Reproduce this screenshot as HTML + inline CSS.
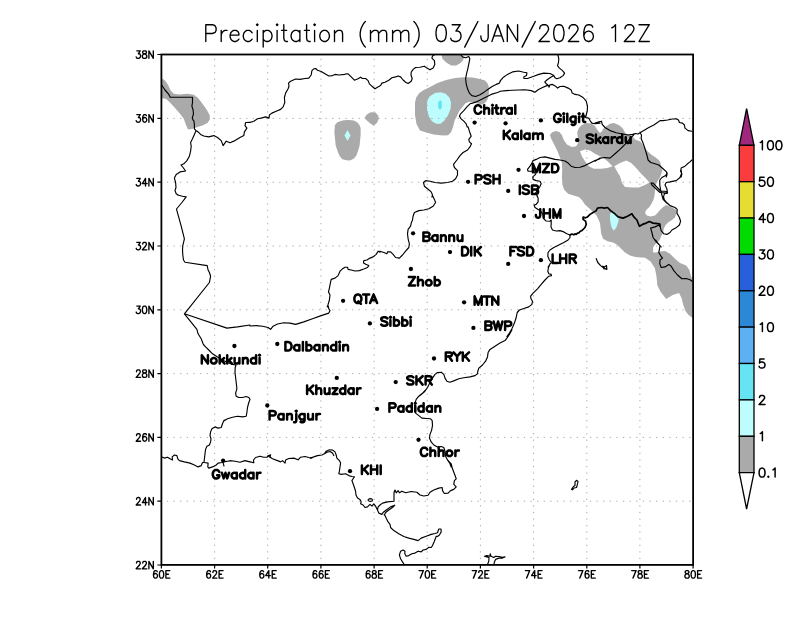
<!DOCTYPE html>
<html lang="en"><head><meta charset="utf-8"><title>Precipitation (mm) 03/JAN/2026 12Z</title>
<style>html,body{margin:0;padding:0;background:#fff}body{width:800px;height:618px;overflow:hidden;font-family:"Liberation Sans",sans-serif}svg{display:block}.t{font-family:"Liberation Sans",sans-serif;fill:#000;fill-opacity:0;stroke:none}</style>
</head><body>
<svg width="800" height="618" viewBox="0 0 800 618">
<rect width="800" height="618" fill="#fff"/>
<defs><clipPath id="cp"><rect x="161.4" y="54.5" width="531.7" height="510.4"/></clipPath></defs>
<g clip-path="url(#cp)">
<g stroke="none">
<path fill="#aaaaaa" d="M161.5 78.1 165 80.6 168.1 85 170.6 90.6 173.8 93.8 178.8 94.4 187.5 93.8 193.8 94.8 198.1 98.1 202.5 103.8 206.9 110 209.8 115.6 209.8 119.4 207.5 123.1 202.5 125.6 200 126.2 192.5 128.8 188.1 129.4 186.2 125.6 183.8 118.8 180 113.8 175 108.1 170 102.5 166.2 99 161.5 98.1Z"/>
<path fill="#aaaaaa" d="M364.4 118.1 366.9 114.4 370.6 112.2 375.6 112.5 378.1 115.6 378.8 118.8 376.9 123.1 373.8 125.6 370.6 123.8 366.9 120.6Z"/>
<path fill="#aaaaaa" d="M441.2 54.5 442.5 58.8 446.2 62.5 451.2 65.6 456.2 65.6 460.6 63.1 463.1 60 464 57.5 461.2 54.5Z"/>
<path fill="#aaaaaa" d="M415 102.5 416.2 97.5 419.4 93.1 423.8 90 430 86.9 437.5 83.1 446.2 80 455 78.1 463.8 77.2 472.5 77.5 480 79 485 80.5 488 83.9 489.1 88.8 488.8 94.8 487.2 100 485 103 482 104.5 477.5 103.4 473.8 102.4 469 101.7 465.2 103.6 462.3 107.3 459.3 111 457 116 454.8 120 453 127 451.2 131.9 448.1 135.2 442.5 135.6 433.8 134.4 426.2 132.5 420 130.6 416.5 124 415 115Z"/>
<path fill="#bdfdfd" d="M426.9 105 427.5 100 430 96.2 435 93.1 440.6 92.2 445.6 93.8 449.4 97.5 451 102.5 450.6 108.8 448.1 115 445 120 440.6 123.8 436.2 123.8 431.9 121.2 428.8 116.2 427.2 110.6Z"/>
<path fill="#66e4f4" d="M438.1 102.5 440 100 441.9 101.9 441.9 107.5 440 110 438.1 107.5Z"/>
<path fill="#aaaaaa" d="M334.4 132.8 334.9 125.3 337 122.5 340 121.3 343.8 120.2 348.8 120 353.8 120.6 357.5 122.5 359.4 125 360.6 128 360.6 135.3 359.6 145.4 358 151 356.3 155.4 354 158.4 350 160.4 346 160.2 342.5 159.2 340 156.6 338.2 152.9 335.7 145.4Z"/>
<path fill="#bdfdfd" d="M347.5 130 350.5 135.5 347.5 141 344.5 135.5Z"/>
<path fill="#aaaaaa" fill-rule="evenodd" d="M550 135 551.9 132.5 555.6 131 559.4 131.9 561.9 135 563.8 140 566.9 144.4 571.9 146.9 576.2 146.2 578.1 143.1 577.8 137.5 577.2 132.5 578.8 128.1 581.9 125 586.2 123.1 591.2 123.5 594.4 125.6 597.5 130 600 133.1 601.9 131.2 603.8 128.1 606.2 126.2 610 123.8 613.8 123.1 618.8 125 622.5 128.1 625 132.5 626.2 133.8 632.5 136 635 139.4 640.4 141.4 642 143.6 644.4 147.5 647.5 151.2 651.2 154.4 655 156.9 658.8 160 660.6 163.1 661.2 167.5 662.5 170 661.2 173.8 660 177.5 658.1 180 656.2 183.8 655 188.8 654.8 193.8 653.8 198.8 651.9 203.1 649.4 206.9 646.2 210 645 213.1 646.9 215.6 650.6 216.5 655 215.6 657.5 213.1 660 210 663.1 206.9 666.2 205 669.4 206.2 673.1 208.1 676.2 210 676.2 213.8 675 217.5 671.9 220 668.1 222.5 665.6 225 663.8 228.8 663.1 232.5 661.2 236.2 659.4 240.6 657.5 241.9 655 244.4 653.1 247.5 653.1 252.5 656.2 252.5 660 251.5 665 251 670 253.8 675 258.8 680 263.1 686.2 265.6 689.4 270 691 276.2 692.8 280 692.8 318 688.8 315.2 685.6 311.2 683.2 304.7 681.6 298.3 679.1 293.1 672.7 295 666.2 299.1 660.5 291.8 657.3 285.3 656.5 276.4 654.9 268.3 650.8 261.8 645.2 257.8 635.5 257 630 255.6 625 252.5 621.2 248.8 617.5 245 613.1 242.5 607.5 241.2 603.1 238.8 601.2 233.8 600.6 228.8 600 223.1 598.1 218.8 596.2 215 593.1 211.9 588.8 208.1 585 204.4 581.9 200 578.8 196.9 573.8 195.6 568.1 193.8 564.4 190 562.5 185 561.9 177.5 562.2 170 561.9 162.5 560 157.5 557.5 151.2 554.4 145 551.2 138.8ZM580 151.2 585 149.4 590 150.6 595 153.8 600 156.2 603.8 158.1 607.5 161.2 612.5 166.2 607.5 168.1 601.2 168.8 593.8 168.8 588.8 166.2 585 161.2 581.9 156.2ZM614.4 166.2 620 163.1 626.2 160.6 631.2 163.1 636.2 168.1 641.2 173.8 645 177.5 649.4 182.5 645 185 638.8 187.5 632.5 187.5 625 186.9 621.9 182.5 620 176.2 616.2 170Z"/>
<path fill="#bdfdfd" d="M610 213.8 613.4 211.2 616.2 213.1 618.8 217.5 618.4 221.2 616.9 226 615 229.4 613.4 230.6 611.2 226.6 610.1 220.6Z"/>
</g>
<g stroke="#aaaaaa" stroke-width="1" fill="none">
<path d="M214.6 565V54.5M267.7 565V54.5M320.9 565V54.5M374.1 565V54.5M427.2 565V54.5M480.4 565V54.5M533.6 565V54.5M586.8 565V54.5M639.9 565V54.5" stroke-dasharray="1.3 5.265" stroke-dashoffset="0.65"/>
<path d="M161.4 501.2H693.1M161.4 437.4H693.1M161.4 373.6H693.1M161.4 309.8H693.1M161.4 246H693.1M161.4 182.2H693.1M161.4 118.4H693.1" stroke-dasharray="1.3 5.31" stroke-dashoffset="1.15"/>
</g>
<path d="M557.8 54.5 558.8 58.8 558.5 62.5 557.5 65.6 559.4 68.1 562.5 70.6 564.6 73.1 563.1 75.6 560 77.8 556.9 78.8 555 77.8 553.8 75.6M500 81.2 503.1 77.5 507.5 74.4 512.5 71.9 518.8 71 523.8 72.2 526.9 72.8 526.5 75.6 523.8 76.9 524 78.5 527.5 78.5 533.8 76.2 538.8 74.4 543.8 73.1 550 73.5 553.8 75.6 550 77.8 546.9 80 544.8 81.9 546.2 83.8 548.8 85.6M500 91.2 506.2 90.6 512.5 90.2 518.8 90 525 89.8 531.2 90.6 535 92.2 538.1 89.8 542.5 87.5 546.9 85.6 548.8 85.6M548.8 85.6 549 87.2 550 84.8 552.5 84.4 555.6 86.2 557.5 88.1 560 86.5 563.8 86.2 568.1 88.1 571.2 90 572.2 93.1 575 94.4 578.8 95 583.1 97.5 586.2 101.2 587.5 106.2 587.2 111.2 586.2 115 585.6 117.5 588.8 118.1 590 120.6 591.9 123.1 595 123.8 600 123.1M595 123.1 598.8 121.9 601.5 121.2 602.2 124.4 605 127.5 610 130.6 616.2 132.8 622.5 134 628.1 135 632.5 134.4 635.6 133.5 638.1 134 640 132.8M640 132.8 643.8 130.6 648.8 127.5 653.8 125 657.5 122.5 660 120.6 663.1 120.6 667.5 120 672.5 119 676.2 118.8 678.5 120 679.4 122.5 682.5 123.1 684.4 125 685 128.1 688.1 130.6 691.9 131.2M640 132.8 641.5 135 641.2 138.8 643.1 143.1 645 148.8 646.9 155 648.1 160 650.6 162.5 655 163.8 658.8 165 663.1 168.8 666.5 171.9 666.9 175 666.2 177M595 161.2 600 158.1 605 157.5 610 158.1 615 153.8 620 149.4 625 144.4 629.4 139.4 632.5 136.2 634 134.6M691.9 160 690 161.9 687.5 163.8 685 166.2 681.2 168.1 680.6 171.2 681.9 173.8 681.2 177M666.9 175 667.2 173.1 665.6 175.6 661.9 177.5 659.8 180 659.8 185 660.6 190 661.9 195 663.1 199.4 666.2 202.5 670 205.6 675 207.5 677.2 209.4 676.9 213.1 679.4 217.5 680.6 221.2 679.4 225 675.6 228.1 671.9 230 670 232.5 666.9 234.4 663.8 233.8 661.2 230.6 660 226.2 659.8 223.8M681.2 170 681.5 173.8 680 177.5 676.2 180.6 670 181.9 666.2 182.5 665 185 666.9 188.8 667.5 193.1 664.4 193.8 663.5 196.9 664.4 200 666.9 202.8 669.4 205M651 183.1 653.1 183.1 660.6 191 666.9 191.5 666.9 193.1 660 192.5 651.9 185 651 183.1M659.8 224.8 655 226.9 650.6 228.1 651.9 232.5 653.1 237.5 656.2 241.9 660 245.6 661.2 247M655.6 240 657.5 242.5 660 245.6 659.4 249.4 658.8 252.5 660.6 255.6 662.5 258.1 660 260 659.8 263.8 661.2 267.5 665 266.9 668.8 264.4 671.2 266.2 673.8 270.6 677.5 275 681.9 278.8 686.2 278.5 690 279.8 692.2 281.2M596.2 258.5 597.8 262.5 600.6 265.6 603.8 268.1 606.9 269.4 606.5 265.6 604.4 266.9 602.5 266.2 604 269M600 158.8 595 160.6 590 163.1 585 165.6 580 167.2 575 167.5 571.2 166.2 568.1 163.1 565 161 560 160 555 159.4 550 158.1 545 156.9 540 157.5 536.2 159.4 533.1 160.6 531.9 163.1 530 166.2 527.5 169.4 528.1 171.2 531.2 171.2 534.4 171.9 535.6 174.4 532.8 176.9 533.1 179.4 536.2 180.6 540 181.2 541.2 183.8 539.4 187.5 537.5 190 535.6 193.1 536.9 195.6 537.5 197M536.9 195 538.1 198.1 538.1 201.9 536.2 204.4 534 205 535 207.5 538.1 209.4 541.2 211.9 543.1 215 543.8 218.8 546.2 221 550 221.2 551.2 220M551.2 220 551.2 223.1 551 226.9 552.5 230 556.2 231 560 230.6 563.8 231.9 566.9 233.8 570 235M570 235 570 237.5 568.1 240 563.8 242.5 558.8 245 553.8 247.5 550 250 548.1 252.5 547.8 256.2 549.4 260 551.2 262.5 549.4 265 548.1 267M550 263.8 548.5 267.5 547.8 271.2 548.8 273.8 551.2 274.4 551.5 275.6 548.8 276.2 545 280 541.2 284.4 537.5 288.8 533.1 293.1 530.6 296.2 531 298.8 532.5 301.2 531.9 304.4 528.8 306.9 523.8 308.5 519.4 310 517.2 312.5 516.2 317.5 514.4 323.1 511.9 328.8 509.4 333.1 506.9 336.5M511.9 330 509.4 334.4 506.9 338.1 505 340.6 500 343.1 495 346.2 490 349.4 488.1 352.5 487.5 356.9 485.6 361.2 482.5 365 478.8 368.1 477.8 371.2 477.5 373.8 475 375.6 470 376.9 463.8 377.8 458.8 378.8 454.4 380.6 450 382.2 446.9 381.2 445 378.1 443.8 374.4 441.2 372.2 437.5 372.5 435 374.4 432.5 378.1 430 382.5 427.5 387.5 424.4 391.9 420 395.6M425.6 390 422.5 393.1 418.8 396.2 416.2 399.4 415 403.1 414.8 408.8 415.6 413.1 418.8 415.6 421.9 418.1 426.9 418.5 430.6 418.8 432.2 420.6 432.5 425.6 431.5 430.6 430 434.4 429.4 438.1 431.2 441.9 433.8 445 437.5 446.9 441.2 446.5 443.8 447.5 445 451.2 445.6 456.2 447.5 460 450 463.8 451.2 467M447.5 460 451.2 463.8 452.5 468.8 454.4 473.8 456.2 478.8 454.4 480.6 453.8 484.4 456.2 486.9 453.8 489.4 450.6 490.6 448.1 493.1 444.4 493.5 442.5 490.6 442.2 487.5 438.8 488.1 433.8 490 430 492.2 428.1 495.2 423.8 496 420 495 416.9 492.2 411.2 491.5 405.6 492.8 401.9 491.2 399.4 492.8 398.1 490.6 396.2 492.8 395 490 394 492.5 394 501.2 387.5 501.9 382.5 503.1 380 505M381.9 514.4 383.1 512.5 386.2 510 390.6 506.9 394.8 505.2 392.5 507.5 388.8 510 385.6 512.5 384.4 515M384.1 514.8 385 515.6 386.5 518.8 388.1 521.9 390 524.4 390.6 527.5 393.8 530.6 398.8 533.8 403.8 536.5 408.8 538.1 413.8 539.4 418.1 540.6 421.2 538.1 426.2 536.2 431.2 534.4 435 533.5 437.5 532.8 438.8 529 441 529 441.2 531.9 439.4 535 437.5 536.5M437.5 536.5 436.2 536.2 434.4 541.2 432.5 545.6 431.2 547.5 428.8 547.2 426.2 549.4 423.1 550 421.2 551.9 418.1 551.2 415 553.1 411.9 553.8 408.8 555.6 406.2 556.2 404.8 553.8 405 551.2 403.1 550 400.6 551.2 399.4 555 400.6 558.8 402.5 561.9 404.4 564.8M310 458.1 313.8 456.9 317.5 455.6 321.9 455 324.4 453.8 326.2 451.2 329.4 449.8 332.5 450 335 451.9 336.2 455 336.9 458.1 339.4 460.6 340.6 463.1 340 466.9 339.4 471.2 338.8 473.8 341.2 474.4 345.6 473.8 348.8 475.6 351.9 476.5 354.4 476.9 353.1 478.8 351.9 480.6 353.1 483.8 354.4 487.5 355.6 491.2 356 495 357.5 498.1 360 499.4 361.2 501.9 360.6 503.8 363.1 505 365 507.5 367.5 506.9 370 504.4 371.9 506.2 373.8 503.8 375.6 506.2 377.5 510 378.8 513.1 381.9 514.4M324.4 453.8 326.9 452.2 330 451.5 332.5 453.1 333.8 455.6M368 500 368.8 499 370.2 498.6 371.9 499 372.5 500 371.9 501 370.2 501.4 368.8 501 368 500M377.5 510 378.1 506.9 380 505M230 460.6 235 461.2 240 462.2 245 460.6 250 461.9 253.8 462.8 253.5 460 255.6 457.5 260 456.2 263.8 457.2 266.9 457.2 270 455.6 270.6 457.5 272.5 458.8 277.5 460.6 280.6 461.9 282.5 460.6 285 463.1 285.6 460 288.8 458.5 293.8 458.1 298.1 459.8 300.6 457.2 305 456.5 308.8 457.5 311.9 458.1M267.5 456 270.6 454.8 269.8 457.5M161.9 456.9 164.4 458.1 167.5 457.2 170 458.8 172.5 460 172.2 456.9 174.4 455 176.9 455.6 177.8 458.8 179.4 460.6 184.4 461.9 190 463.1 194.4 465 198.1 466.9 201.2 465.6 202.5 462.5 204.4 462.5 208.1 463.1 207.8 466.9 208.8 468.1 212.5 466.9 216.2 465 218.1 463.1 221.9 462.5 223.8 461.9 227.5 461.2 230 460.9M222.9 461.9 223.5 464.4 224 466M204 462.5 204.4 458.8 205 453.8 205.6 449.4 206.9 446.2 209.4 445 210.6 441.9 211 438.8 210 435.6 210.6 431.9 211.9 428.8 215 426.9 218.1 428.1 221.2 427.5 222.5 423.8 223.8 420.6 225 420M223.8 421 227.5 418.8 232.5 417.2 237.5 416.2 242.5 416.9 246.2 416.2 246.9 412.5 247.5 407.5 248.8 402.5 250 399.4 248.8 397.5 246.2 396.5 242.5 397.5 238.8 397.5 236.2 396.2 235.6 393.1 236.9 388.8 236.2 382.5 235.6 377.5 235 372.5 235.2 367.5 236 365 232.5 364.4 227.5 362.5 222.5 360 217.5 356.9 212.5 353.8 208.8 350 205.6 346.9 203.8 345M184.4 313.8 209.4 282.5 210 279.4 210.6 276.2 209.4 272.5 208.1 270M184.4 313.8 226.9 328.1 237.5 326.9 250 325M184.4 313.8 196.9 329.4 198.1 333.8 201.2 338.8 203.1 343.8 204.4 345.6M208.1 270 207.2 265.6 185 262.2 183.5 260 182.8 255 182.5 250 182.8 245.6 184.4 238.8 181.2 226.2 176.9 210.6 176.5 209 181.9 202.5 186.2 196.9 182.5 196.2 177.5 195M178.1 195 176.2 193.8 175 190.6 176 187.5 175.6 182.5 174.4 178.1 176.2 174.4 180 171.9 185.6 171 183.1 167.5 181 165 183.8 163.8 186.9 160.6 189.4 156.2 190.6 151.2 191.2 146.2 190.6 142.5 192.5 138.8 194.4 134.4 196 130.6M196 130.6 194.4 128.8 194.4 125 194 121.2 193.1 120M196 130.6 198.1 131.9 200.6 134.4 203.8 136 208.8 136.9 213.8 135.6 217.5 137.5 221.2 140.6 223.1 145.6 226.2 141.2 230 142.8 235 140.6 240 137.5 243.8 135.6 244.4 131.9 246.9 128.1 245 125.6 245.6 122.5 250 122.2M193.2 120.2 192.2 118.1 193.5 113.8 193.1 110 191.9 106.2 192.5 102.5 192.5 97.2 170.2 97.2 168.8 94.4 165 90 161.5 84.8M250 122.5 253.8 121.2 257.5 118.8 261.2 118.1 265.6 116.9 269 118.1 269.4 115 271.9 113.1 276.2 111.2 280.6 109.4 283.1 106.9 284.8 102.5 284.4 97.5 285.6 93.1 288.1 88.8 289 86.2 288.5 83.1 290.6 81.2 295.6 79 300 79.4 305 78.5 308.8 78.1 311.2 75 311.9 70.6 313.8 68.8 315.6 68.5 317.5 70.2 321.2 71.5 325 73.8 328.8 76 332.5 75.6 335 74.4 338.8 75 345 74.4M345 74 348.1 73.8 351.2 76.9 354.4 80.2 357.5 79 360.6 77.2 362.5 78.5 365.6 78.5 368.1 80.6 369.4 83.8 371.9 86.2 375 88.8 377.5 87.2 380.6 85.6 381.9 83.1 385 82.2 388.8 80.2 391.9 77.8 395.6 76.9 398.1 76 400.6 76.9 403.1 80 405.6 82.2 408.1 83.5 411.2 81.2 412.2 78.5 411 75 411.2 72.2 413.1 69.4 415.6 67.5 420 67.2 424.4 66.2 426.9 68.1 430 69.8 433.1 68.1 434.8 64.4 434.4 60.6 431.9 58.1 432.5 56 434.4 54.8M460.6 54.5 462.5 56.9 465.6 57.8 468.8 56.5 469.8 58.8 468.8 63.8 467.8 68.8 466.5 73.8 465.6 78.8 466.2 83.8 467.5 88.8 469.4 93.1 471.9 95.6 475.6 96.5 480 94.8 484.4 91.9 488.8 88.8 492.5 86.2 496.2 84.4 499.4 83.1 501.2 79.4 502.5 78.5M500 91.5 497.5 92.5 491.2 94.4 486.2 96.9 481.2 99.4 476.2 101.9 472.5 103.1 470 103.8 466.9 106.9 463.8 110.6 460.6 113.8 459.4 116.2 461.2 118.8 463.8 121.2 466.2 123.8 467.2 127M468.1 126.9 469.4 131.2 471.2 136.2 468.8 139.4 469.4 141.9 471.5 143.8 470 146.9 467.5 150 463.1 152.5 460 155.6 456.9 160 453.5 164.4 454.4 167.5 457.5 170.6 457.5 175 455.6 178.8 452.5 181.2 447.5 182.5 441.2 183.1 435 182.5 430 181.2 425.6 180.6 423.5 182.5 424.4 186.2 427.5 188.8 431.2 191.9 432.5 195 431.9 197M432.5 195.6 434.4 199.4 435.6 202.5 433.1 206.2 428.8 208.8 423.8 210 418.8 210.6 414.4 212.5 413.1 216.2 412.5 220 411.2 223.1 410.6 226.2 408.1 229.4 407.5 233.8 408.1 238.8 409.4 243.8 408.8 247.5 405.6 251.2 402.5 255 399.4 258.1 395.6 257.5 393.1 254.4 390.6 251.9 387.5 251.9 386.9 253.8 383.8 252.5 380 251.2M380 252.2 378.1 251.2 376.2 254.4 373.1 256.9 370 258.1 366.9 260 363.8 260.6 363.5 263.1 366.2 264.4 368.8 265.6 367.5 267.5 363.8 269 359.4 270.6 355 271 351.2 270 348.1 269.4 347.5 267.2 345 267.2 342.5 268.8 340 271.2 338.1 275.6 335 278.1 331.2 279.4 330.2 283.8 329.4 288.1 328.5 291.9 330 295 329.4 300 328.1 304.4 327.2 307M328.1 305.6 328.8 308.8 330 310.6 328.8 313.1 321.2 315.6 312.5 318.8 303.8 321.9 295.6 324.4 290 323.1 283.8 322.8 277.5 324 273.1 326.2 270.6 329.4 268.1 327.5 262.5 326.2 256.2 325.6 250 326M571.5 489.3 573.5 486.5 575 485.5 575 482 576.5 480.3 578 481.5 577 486 576.5 487.5 574 488 572.5 489.8 571.5 489.3M487.5 564.5 488.8 561.2 489 557.5 486.9 556.9 484.4 556.2 486.9 555.6 490 556.2 490.2 553.8 491 556.2 493.8 557.5 495.6 556.2 498.8 556.5 502.5 557.2 505 556.9 502.5 558.1 498.8 558.1 495.6 559.4 494.4 561.9 494 564.5" fill="none" stroke="#000" stroke-width="1.15" stroke-linejoin="round" stroke-linecap="round"/>
<path d="M596.2 210.6 597.5 208.1 601.2 207.5 604.4 208.1 607.5 207.5 610.6 210.6 615 213.8 618.1 216.9 623.1 218.1 627.5 216.2 631.9 213.8 633.8 216.9 636.9 220 639.4 226.2 642.5 224.4 646.2 223.1 649.4 221.5 653.1 223.1 659.4 223.8 660 226.2M570 235 571.9 234 573.8 234.8 575 233.8 576.2 234.4 577.5 233.1 579 232.8 580 231.5 581.9 230.6 585 227.5 586.2 224.4 585.6 221.2 583.1 219.4 583.1 217.2 585.6 217.8 587.5 216.9 590 214.4 593.1 212.5 596.2 210.6" fill="none" stroke="#000" stroke-width="1.7" stroke-linejoin="round" stroke-linecap="round"/>
</g>
<g fill="#000" stroke="none">
<circle cx="474.6" cy="122.6" r="2.15"/>
<circle cx="505.6" cy="123.3" r="2.15"/>
<circle cx="540.9" cy="120.4" r="2.15"/>
<circle cx="577.2" cy="140.2" r="2.15"/>
<circle cx="518.5" cy="169.8" r="2.15"/>
<circle cx="468.1" cy="181.8" r="2.15"/>
<circle cx="508.2" cy="190.9" r="2.15"/>
<circle cx="524" cy="216" r="2.15"/>
<circle cx="413.1" cy="233.3" r="2.15"/>
<circle cx="450" cy="252.1" r="2.15"/>
<circle cx="508.2" cy="263.9" r="2.15"/>
<circle cx="540.9" cy="260.2" r="2.15"/>
<circle cx="410.9" cy="269" r="2.15"/>
<circle cx="343.1" cy="300.8" r="2.15"/>
<circle cx="464.1" cy="302.3" r="2.15"/>
<circle cx="369.9" cy="323.4" r="2.15"/>
<circle cx="473.4" cy="327.9" r="2.15"/>
<circle cx="277.3" cy="344" r="2.15"/>
<circle cx="234.4" cy="346" r="2.15"/>
<circle cx="434" cy="358.5" r="2.15"/>
<circle cx="336.8" cy="377.9" r="2.15"/>
<circle cx="395.7" cy="382.1" r="2.15"/>
<circle cx="267.3" cy="405.5" r="2.15"/>
<circle cx="377.1" cy="408.9" r="2.15"/>
<circle cx="418.5" cy="439.8" r="2.15"/>
<circle cx="223.1" cy="460.6" r="2.15"/>
<circle cx="350" cy="471.2" r="2.15"/>
</g>
<path d="M481.1 107.3 480.7 106.5 479.8 105.7 478.9 105.3 477.2 105.3 476.3 105.7 475.4 106.5 475 107.3 474.6 108.5 474.6 110.5 475 111.7 475.4 112.5 476.3 113.3 477.2 113.7 478.9 113.7 479.8 113.3 480.7 112.5 481.1 111.7M484.2 105.3 484.2 109.7M484.2 109.7 484.2 113.7M484.2 109.7 485.5 108.5 486.4 108.1 487.7 108.1 488.6 108.5 489 109.7 489 113.7M492.5 108.1 492.5 113.7M492.1 105.3 492.5 104.9 492.9 105.3 492.5 105.7 492.1 105.3M495.1 108.1 496.4 108.1M496.4 108.1 496.4 105.3M496.4 108.1 496.4 112.1 496.9 113.3 497.8 113.7 498.6 113.7M496.4 108.1 498.2 108.1M501.3 108.1 501.3 110.5M501.3 110.5 501.3 113.7M501.3 110.5 501.7 109.3 502.6 108.5 503.5 108.1 504.8 108.1M511.8 109.3 510.9 108.5 510 108.1 508.7 108.1 507.8 108.5 507 109.3 506.5 110.5 506.5 111.3 507 112.5 507.8 113.3 508.7 113.7 510 113.7 510.9 113.3 511.8 112.5M511.8 109.3 511.8 108.1M511.8 109.3 511.8 112.5M511.8 112.5 511.8 113.7M515.3 105.3 515.3 113.7M503.8 130.7 503.8 136.3M503.8 136.3 503.8 139.1M503.8 136.3 505.9 134.3M505.9 134.3 509.9 130.7M505.9 134.3 509.9 139.1M517.8 134.7 516.9 133.9 516 133.5 514.7 133.5 513.8 133.9 512.9 134.7 512.5 135.9 512.5 136.7 512.9 137.9 513.8 138.7 514.7 139.1 516 139.1 516.9 138.7 517.8 137.9M517.8 134.7 517.8 133.5M517.8 134.7 517.8 137.9M517.8 137.9 517.8 139.1M521.3 130.7 521.3 139.1M529.6 134.7 528.7 133.9 527.8 133.5 526.5 133.5 525.6 133.9 524.8 134.7 524.3 135.9 524.3 136.7 524.8 137.9 525.6 138.7 526.5 139.1 527.8 139.1 528.7 138.7 529.6 137.9M529.6 134.7 529.6 133.5M529.6 134.7 529.6 137.9M529.6 137.9 529.6 139.1M533.1 133.5 533.1 135.1M533.1 135.1 533.1 139.1M533.1 135.1 534.4 133.9 535.3 133.5 536.6 133.5 537.5 133.9 537.9 135.1M537.9 135.1 537.9 139.1M537.9 135.1 539.2 133.9 540.1 133.5 541.4 133.5 542.3 133.9 542.7 135.1 542.7 139.1M558.5 118.9 560.7 118.9 560.7 120.1 560.3 120.9 559.4 121.7 558.5 122.1 556.8 122.1 555.9 121.7 555 120.9 554.6 120.1 554.1 118.9 554.1 116.9 554.6 115.7 555 114.9 555.9 114.1 556.8 113.7 558.5 113.7 559.4 114.1 560.3 114.9 560.7 115.7M563.8 116.5 563.8 122.1M563.3 113.7 563.8 113.3 564.2 113.7 563.8 114.1 563.3 113.7M567.3 113.7 567.3 122.1M571.7 124.5 572.5 124.9 573.9 124.9 574.7 124.5 575.2 124.1 575.6 122.9 575.6 120.9M575.6 117.7 574.7 116.9 573.9 116.5 572.5 116.5 571.7 116.9 570.8 117.7 570.4 118.9 570.4 119.7 570.8 120.9 571.7 121.7 572.5 122.1 573.9 122.1 574.7 121.7 575.6 120.9M575.6 117.7 575.6 116.5M575.6 117.7 575.6 120.9M579.1 116.5 579.1 122.1M578.7 113.7 579.1 113.3 579.6 113.7 579.1 114.1 578.7 113.7M581.7 116.5 583.1 116.5M583.1 116.5 583.1 113.7M583.1 116.5 583.1 120.5 583.5 121.7 584.4 122.1 585.2 122.1M583.1 116.5 584.8 116.5M586.8 141.7 587.6 142.5 588.9 142.9 590.7 142.9 592 142.5 592.9 141.7 592.9 140.5 592.4 139.7 592 139.3 591.1 138.9 588.5 138.1 587.6 137.7 587.2 137.3 586.8 136.5 586.8 135.7 587.6 134.9 588.9 134.5 590.7 134.5 592 134.9 592.9 135.7M595.9 134.5 595.9 141.3M595.9 141.3 595.9 142.9M595.9 141.3 597.7 139.7M597.7 139.7 600.3 137.3M597.7 139.7 598.1 140.1 600.3 142.5M597.7 139.7 600.3 142.5M597.7 139.7 600.8 142.9 600.3 142.5M608.2 138.5 607.3 137.7 606.5 137.3 605.1 137.3 604.3 137.7 603.4 138.5 603 139.7 603 140.5 603.4 141.7 604.3 142.5 605.1 142.9 606.5 142.9 607.3 142.5 608.2 141.7M608.2 138.5 608.2 137.3M608.2 138.5 608.2 141.7M608.2 141.7 608.2 142.9M611.7 137.3 611.7 139.7M611.7 139.7 611.7 142.9M611.7 139.7 612.2 138.5 613 137.7 613.9 137.3 615.2 137.3M622.2 138.5 621.4 137.7 620.5 137.3 619.2 137.3 618.3 137.7 617.4 138.5 617 139.7 617 140.5 617.4 141.7 618.3 142.5 619.2 142.9 620.5 142.9 621.4 142.5 622.2 141.7M622.2 138.5 622.2 134.5M622.2 138.5 622.2 141.7M622.2 141.7 622.2 142.9M625.7 137.3 625.7 141.3 626.2 142.5 627 142.9 628.4 142.9 629.2 142.5 630.6 141.3M630.6 141.3 630.6 137.3M630.6 141.3 630.6 142.9M532.9 163.9 532.9 172.3M532.9 163.9 534.2 167.1M532.9 163.9 535 169.1M532.9 163.9 536.4 172.3M534.2 167.1 533.7 165.9 535.5 170.3 535 169.1M534.2 167.1 535 169.1M534.2 167.1 536.4 172.3M535 169.1 536.4 172.3M536.4 172.3 537.7 169.1M536.4 172.3 538.5 167.1M536.4 172.3 539.9 163.9M537.7 169.1 537.2 170.3 539 165.9 538.5 167.1M537.7 169.1 538.5 167.1M537.7 169.1 539.9 163.9M538.5 167.1 539.9 163.9M539.9 163.9 539.9 172.3M542.9 163.9 549.1 163.9 542.9 172.3 549.1 172.3M552.1 163.9 552.1 172.3 555.2 172.3 556.5 171.9 557.4 171.1 557.8 170.3 558.3 169.1 558.3 167.1 557.8 165.9 557.4 165.1 556.5 164.3 555.2 163.9 552.1 163.9M475.6 179.5 475.6 175.1 479.5 175.1 480.8 175.5 481.2 175.9 481.7 176.7 481.7 177.9 481.2 178.7 480.8 179.1 479.5 179.5 475.6 179.5M475.6 179.5 475.6 183.5M484.3 182.3 485.2 183.1 486.5 183.5 488.3 183.5 489.6 183.1 490.4 182.3 490.4 181.1 490 180.3 489.6 179.9 488.7 179.5 486.1 178.7 485.2 178.3 484.7 177.9 484.3 177.1 484.3 176.3 485.2 175.5 486.5 175.1 488.3 175.1 489.6 175.5 490.4 176.3M493.5 175.1 493.5 179.1M493.5 179.1 493.5 183.5M493.5 179.1 499.6 179.1M499.6 179.1 499.6 175.1M499.6 179.1 499.6 183.5M519.8 185.5 519.8 193.9M522.8 192.7 523.7 193.5 525 193.9 526.8 193.9 528.1 193.5 528.9 192.7 528.9 191.5 528.5 190.7 528.1 190.3 527.2 189.9 524.6 189.1 523.7 188.7 523.3 188.3 522.8 187.5 522.8 186.7 523.7 185.9 525 185.5 526.8 185.5 528.1 185.9 528.9 186.7M532 189.5 532 185.5 536 185.5 537.3 185.9 537.7 186.3 538.1 187.1 538.1 187.9 537.7 188.7 537.3 189.1 536 189.5M532 189.5 532 193.9 536 193.9 537.3 193.5 537.7 193.1 538.1 192.3 538.1 191.1 537.7 190.3 537.3 189.9 536 189.5M532 189.5 536 189.5M535.9 214.9 535.9 215.7 536.3 216.9 536.7 217.3 537.6 217.7 538.5 217.7 539.4 217.3 539.8 216.9 540.2 215.7 540.2 209.3M543.7 209.3 543.7 213.3M543.7 213.3 543.7 217.7M543.7 213.3 549.9 213.3M549.9 213.3 549.9 209.3M549.9 213.3 549.9 217.7M553.4 209.3 553.4 217.7M553.4 209.3 554.7 212.5M553.4 209.3 555.6 214.5M553.4 209.3 556.9 217.7M554.7 212.5 554.2 211.3 556 215.7 555.6 214.5M554.7 212.5 555.6 214.5M554.7 212.5 556.9 217.7M555.6 214.5 556.9 217.7M556.9 217.7 558.2 214.5M556.9 217.7 559.1 212.5M556.9 217.7 560.4 209.3M558.2 214.5 557.8 215.7 559.5 211.3 559.1 212.5M558.2 214.5 559.1 212.5M558.2 214.5 560.4 209.3M559.1 212.5 560.4 209.3M560.4 209.3 560.4 217.7M423.4 236.5 423.4 232.5 427.4 232.5 428.7 232.9 429.1 233.3 429.6 234.1 429.6 234.9 429.1 235.7 428.7 236.1 427.4 236.5M423.4 236.5 423.4 240.9 427.4 240.9 428.7 240.5 429.1 240.1 429.6 239.3 429.6 238.1 429.1 237.3 428.7 236.9 427.4 236.5M423.4 236.5 427.4 236.5M437.5 236.5 436.6 235.7 435.7 235.3 434.4 235.3 433.5 235.7 432.6 236.5 432.2 237.7 432.2 238.5 432.6 239.7 433.5 240.5 434.4 240.9 435.7 240.9 436.6 240.5 437.5 239.7M437.5 236.5 437.5 235.3M437.5 236.5 437.5 239.7M437.5 239.7 437.5 240.9M441 235.3 441 236.9M441 236.9 441 240.9M441 236.9 442.3 235.7 443.2 235.3 444.5 235.3 445.3 235.7 445.8 236.9 445.8 240.9M449.3 235.3 449.3 236.9M449.3 236.9 449.3 240.9M449.3 236.9 450.6 235.7 451.5 235.3 452.8 235.3 453.7 235.7 454.1 236.9 454.1 240.9M457.6 235.3 457.6 239.3 458.1 240.5 458.9 240.9 460.2 240.9 461.1 240.5 462.4 239.3M462.4 239.3 462.4 235.3M462.4 239.3 462.4 240.9M462.1 247 462.1 255.4 465.1 255.4 466.4 255 467.3 254.2 467.7 253.4 468.2 252.2 468.2 250.2 467.7 249 467.3 248.2 466.4 247.4 465.1 247 462.1 247M471.2 247 471.2 255.4M474.8 247 474.8 252.6M474.8 252.6 474.8 255.4M474.8 252.6 476.9 250.6M476.9 250.6 480.9 247M476.9 250.6 480.9 255.4M510.4 251 510.4 247 516.1 247M510.4 251 510.4 255.4M510.4 251 514 251M517.9 254.2 518.8 255 520.1 255.4 521.8 255.4 523.2 255 524 254.2 524 253 523.6 252.2 523.2 251.8 522.3 251.4 519.6 250.6 518.8 250.2 518.3 249.8 517.9 249 517.9 248.2 518.8 247.4 520.1 247 521.8 247 523.2 247.4 524 248.2M527.1 247 527.1 255.4 530.2 255.4 531.5 255 532.4 254.2 532.8 253.4 533.2 252.2 533.2 250.2 532.8 249 532.4 248.2 531.5 247.4 530.2 247 527.1 247M552.6 254.5 552.6 262.9 557.9 262.9M560.1 254.5 560.1 258.5M560.1 258.5 560.1 262.9M560.1 258.5 566.2 258.5M566.2 258.5 566.2 254.5M566.2 258.5 566.2 262.9M569.7 258.5 569.7 254.5 573.7 254.5 575 254.9 575.4 255.3 575.9 256.1 575.9 256.9 575.4 257.7 575 258.1 573.7 258.5 572.8 258.5M569.7 258.5 569.7 262.9M569.7 258.5 572.8 258.5M572.8 258.5 573.7 259.7M572.8 258.5 575 261.7M572.8 258.5 575.9 262.9M573.7 259.7 575 261.7M573.7 259.7 575.9 262.9M575 261.7 575.9 262.9M408.9 277.1 415 277.1 408.9 285.5 415 285.5M418 277.1 418 281.5M418 281.5 418 285.5M418 281.5 419.4 280.3 420.2 279.9 421.6 279.9 422.4 280.3 422.9 281.5 422.9 285.5M425.9 282.3 425.9 283.1 426.4 284.3 427.2 285.1 428.1 285.5 429.4 285.5 430.3 285.1 431.2 284.3 431.6 283.1 431.6 282.3 431.2 281.1 430.3 280.3 429.4 279.9 428.1 279.9 427.2 280.3 426.4 281.1 425.9 282.3M434.7 277.1 434.7 281.1M434.7 281.1 434.7 284.3M434.7 281.1 435.6 280.3 436.4 279.9 437.8 279.9 438.6 280.3 439.5 281.1 439.9 282.3 439.9 283.1 439.5 284.3 438.6 285.1 437.8 285.5 436.4 285.5 435.6 285.1 434.7 284.3M434.7 284.3 434.7 285.5M358.3 301.4 359.6 302.6M359.6 302.6 358.7 303 357 303 356.1 302.6 355.2 301.8 354.8 301 354.4 299.8 354.4 297.8 354.8 296.6 355.2 295.8 356.1 295 357 294.6 358.7 294.6 359.6 295 360.5 295.8 360.9 296.6 361.4 297.8 361.4 299.8 360.9 301 360.5 301.8 359.6 302.6M359.6 302.6 360.9 303.8M363.1 294.6 366.2 294.6M366.2 294.6 366.2 303M366.2 294.6 369.2 294.6M370.1 303 371.4 299.8M370.1 303 372.3 297.8M370.1 303 373.6 294.6M371.4 299.8 371 301 372.7 296.6 372.3 297.8M371.4 299.8 372.3 297.8M371.4 299.8 373.6 294.6M372.3 297.8 373.6 294.6M373.6 294.6 374.9 297.8M373.6 294.6 375.8 299.8M373.6 294.6 377.1 303M371.4 300.2 375.8 300.2M374.9 297.8 374.5 296.6 376.2 301 375.8 299.8M374.9 297.8 375.8 299.8M374.9 297.8 377.1 303M375.8 299.8 377.1 303M474.6 296.4 474.6 304.8M474.6 296.4 476 299.6M474.6 296.4 476.8 301.6M474.6 296.4 478.2 304.8M476 299.6 475.5 298.4 477.3 302.8 476.8 301.6M476 299.6 476.8 301.6M476 299.6 478.2 304.8M476.8 301.6 478.2 304.8M478.2 304.8 479.5 301.6M478.2 304.8 480.3 299.6M478.2 304.8 481.7 296.4M479.5 301.6 479 302.8 480.8 298.4 480.3 299.6M479.5 301.6 480.3 299.6M479.5 301.6 481.7 296.4M480.3 299.6 481.7 296.4M481.7 296.4 481.7 304.8M483.8 296.4 486.9 296.4M486.9 296.4 486.9 304.8M486.9 296.4 490 296.4M492.2 304.8 492.2 296.4 498.3 304.8 498.3 296.4M381.2 324.5 382.1 325.3 383.4 325.7 385.2 325.7 386.5 325.3 387.4 324.5 387.4 323.3 386.9 322.5 386.5 322.1 385.6 321.7 383 320.9 382.1 320.5 381.7 320.1 381.2 319.3 381.2 318.5 382.1 317.7 383.4 317.3 385.2 317.3 386.5 317.7 387.4 318.5M390.4 320.1 390.4 325.7M390 317.3 390.4 316.9 390.9 317.3 390.4 317.7 390 317.3M394 317.3 394 321.3M394 321.3 394 324.5M394 321.3 394.8 320.5 395.7 320.1 397 320.1 397.9 320.5 398.8 321.3 399.2 322.5 399.2 323.3 398.8 324.5 397.9 325.3 397 325.7 395.7 325.7 394.8 325.3 394 324.5M394 324.5 394 325.7M402.3 317.3 402.3 321.3M402.3 321.3 402.3 324.5M402.3 321.3 403.1 320.5 404 320.1 405.3 320.1 406.2 320.5 407.1 321.3 407.5 322.5 407.5 323.3 407.1 324.5 406.2 325.3 405.3 325.7 404 325.7 403.1 325.3 402.3 324.5M402.3 324.5 402.3 325.7M410.6 320.1 410.6 325.7M410.2 317.3 410.6 316.9 411 317.3 410.6 317.7 410.2 317.3M485.4 325.5 485.4 321.5 489.3 321.5 490.6 321.9 491 322.3 491.5 323.1 491.5 323.9 491 324.7 490.6 325.1 489.3 325.5M485.4 325.5 485.4 329.9 489.3 329.9 490.6 329.5 491 329.1 491.5 328.3 491.5 327.1 491 326.3 490.6 325.9 489.3 325.5M485.4 325.5 489.3 325.5M493.7 321.5 494.1 323.1M493.7 321.5 495.4 328.3M493.7 321.5 495.9 329.9M494.1 323.1 495.4 328.3M494.1 323.1 495.9 329.9M495.4 328.3 495.9 329.9M495.9 329.9 496.3 328.3M495.9 329.9 497.6 323.1M495.9 329.9 498.1 321.5M496.3 328.3 497.6 323.1M496.3 328.3 498.1 321.5M497.6 323.1 498.1 321.5M498.1 321.5 498.5 323.1M498.1 321.5 499.8 328.3M498.1 321.5 500.2 329.9M498.5 323.1 499.8 328.3M498.5 323.1 500.2 329.9M499.8 328.3 500.2 329.9M500.2 329.9 500.7 328.3M500.2 329.9 502 323.1M500.2 329.9 502.4 321.5M500.7 328.3 502 323.1M500.7 328.3 502.4 321.5M502 323.1 502.4 321.5M505.1 325.9 505.1 321.5 509 321.5 510.3 321.9 510.8 322.3 511.2 323.1 511.2 324.3 510.8 325.1 510.3 325.5 509 325.9 505.1 325.9M505.1 325.9 505.1 329.9M285.4 342.1 285.4 350.5 288.4 350.5 289.7 350.1 290.6 349.3 291 348.5 291.5 347.3 291.5 345.3 291 344.1 290.6 343.3 289.7 342.5 288.4 342.1 285.4 342.1M299.4 346.1 298.5 345.3 297.6 344.9 296.3 344.9 295.4 345.3 294.5 346.1 294.1 347.3 294.1 348.1 294.5 349.3 295.4 350.1 296.3 350.5 297.6 350.5 298.5 350.1 299.4 349.3M299.4 346.1 299.4 344.9M299.4 346.1 299.4 349.3M299.4 349.3 299.4 350.5M302.9 342.1 302.9 350.5M306.4 342.1 306.4 346.1M306.4 346.1 306.4 349.3M306.4 346.1 307.2 345.3 308.1 344.9 309.4 344.9 310.3 345.3 311.2 346.1 311.6 347.3 311.6 348.1 311.2 349.3 310.3 350.1 309.4 350.5 308.1 350.5 307.2 350.1 306.4 349.3M306.4 349.3 306.4 350.5M319.5 346.1 318.6 345.3 317.8 344.9 316.4 344.9 315.6 345.3 314.7 346.1 314.3 347.3 314.3 348.1 314.7 349.3 315.6 350.1 316.4 350.5 317.8 350.5 318.6 350.1 319.5 349.3M319.5 346.1 319.5 344.9M319.5 346.1 319.5 349.3M319.5 349.3 319.5 350.5M323 344.9 323 346.5M323 346.5 323 350.5M323 346.5 324.3 345.3 325.2 344.9 326.5 344.9 327.4 345.3 327.8 346.5 327.8 350.5M336.2 346.1 335.3 345.3 334.4 344.9 333.1 344.9 332.2 345.3 331.3 346.1 330.9 347.3 330.9 348.1 331.3 349.3 332.2 350.1 333.1 350.5 334.4 350.5 335.3 350.1 336.2 349.3M336.2 346.1 336.2 342.1M336.2 346.1 336.2 349.3M336.2 349.3 336.2 350.5M339.7 344.9 339.7 350.5M339.2 342.1 339.7 341.7 340.1 342.1 339.7 342.5 339.2 342.1M343.2 344.9 343.2 346.5M343.2 346.5 343.2 350.5M343.2 346.5 344.5 345.3 345.4 344.9 346.7 344.9 347.5 345.3 348 346.5 348 350.5M201.8 363.6 201.8 355.2 207.9 363.6 207.9 355.2M210.9 360.4 210.9 361.2 211.4 362.4 212.3 363.2 213.1 363.6 214.5 363.6 215.3 363.2 216.2 362.4 216.6 361.2 216.6 360.4 216.2 359.2 215.3 358.4 214.5 358 213.1 358 212.3 358.4 211.4 359.2 210.9 360.4M219.7 355.2 219.7 362M219.7 362 219.7 363.6M219.7 362 221.5 360.4M221.5 360.4 224.1 358M221.5 360.4 221.9 360.8 224.1 363.2M221.5 360.4 224.1 363.2M221.5 360.4 224.5 363.6 224.1 363.2M227.2 355.2 227.2 362M227.2 362 227.2 363.6M227.2 362 228.9 360.4M228.9 360.4 231.5 358M228.9 360.4 229.3 360.8 231.5 363.2M228.9 360.4 231.5 363.2M228.9 360.4 232 363.6 231.5 363.2M234.6 358 234.6 362 235 363.2 235.9 363.6 237.2 363.6 238.1 363.2 239.4 362M239.4 362 239.4 358M239.4 362 239.4 363.6M242.9 358 242.9 359.6M242.9 359.6 242.9 363.6M242.9 359.6 244.2 358.4 245.1 358 246.4 358 247.3 358.4 247.7 359.6 247.7 363.6M256.1 359.2 255.2 358.4 254.3 358 253 358 252.1 358.4 251.2 359.2 250.8 360.4 250.8 361.2 251.2 362.4 252.1 363.2 253 363.6 254.3 363.6 255.2 363.2 256.1 362.4M256.1 359.2 256.1 355.2M256.1 359.2 256.1 362.4M256.1 362.4 256.1 363.6M259.6 358 259.6 363.6M259.1 355.2 259.6 354.8 260 355.2 259.6 355.6 259.1 355.2M445.8 356.4 445.8 352.4 449.7 352.4 451 352.8 451.4 353.2 451.9 354 451.9 354.8 451.4 355.6 451 356 449.7 356.4 448.8 356.4M445.8 356.4 445.8 360.8M445.8 356.4 448.8 356.4M448.8 356.4 449.7 357.6M448.8 356.4 451 359.6M448.8 356.4 451.9 360.8M449.7 357.6 451 359.6M449.7 357.6 451.9 360.8M451 359.6 451.9 360.8M453.6 352.4 457.1 356.4M457.1 356.4 457.1 360.8M457.1 356.4 460.6 352.4M462.8 352.4 462.8 358M462.8 358 462.8 360.8M462.8 358 465 356M465 356 469 352.4M465 356 469 360.8M307.1 385.5 307.1 391.1M307.1 391.1 307.1 393.9M307.1 391.1 309.3 389.1M309.3 389.1 313.3 385.5M309.3 389.1 313.3 393.9M316.3 385.5 316.3 389.9M316.3 389.9 316.3 393.9M316.3 389.9 317.7 388.7 318.5 388.3 319.9 388.3 320.7 388.7 321.2 389.9 321.2 393.9M324.7 388.3 324.7 392.3 325.1 393.5 326 393.9 327.3 393.9 328.2 393.5 329.5 392.3M329.5 392.3 329.5 388.3M329.5 392.3 329.5 393.9M332.6 388.3 337.4 388.3M332.6 393.9 337.4 393.9M332.6 393.9 334.3 391.9M332.6 393.9 335.6 390.3M332.6 393.9 337.4 388.3M334.3 391.9 335.6 390.3M334.3 391.9 337.4 388.3M335.6 390.3 336.1 389.9M335.6 390.3 337.4 388.3M345.3 389.5 344.4 388.7 343.5 388.3 342.2 388.3 341.3 388.7 340.4 389.5 340 390.7 340 391.5 340.4 392.7 341.3 393.5 342.2 393.9 343.5 393.9 344.4 393.5 345.3 392.7M345.3 389.5 345.3 385.5M345.3 389.5 345.3 392.7M345.3 392.7 345.3 393.9M353.6 389.5 352.7 388.7 351.8 388.3 350.5 388.3 349.6 388.7 348.8 389.5 348.3 390.7 348.3 391.5 348.8 392.7 349.6 393.5 350.5 393.9 351.8 393.9 352.7 393.5 353.6 392.7M353.6 389.5 353.6 388.3M353.6 389.5 353.6 392.7M353.6 392.7 353.6 393.9M357.1 388.3 357.1 390.7M357.1 390.7 357.1 393.9M357.1 390.7 357.5 389.5 358.4 388.7 359.3 388.3 360.6 388.3M407.2 383.4 408.1 384.2 409.4 384.6 411.2 384.6 412.5 384.2 413.4 383.4 413.4 382.2 412.9 381.4 412.5 381 411.6 380.6 409 379.8 408.1 379.4 407.7 379 407.2 378.2 407.2 377.4 408.1 376.6 409.4 376.2 411.2 376.2 412.5 376.6 413.4 377.4M416.4 376.2 416.4 381.8M416.4 381.8 416.4 384.6M416.4 381.8 418.6 379.8M418.6 379.8 422.6 376.2M418.6 379.8 422.6 384.6M425.6 380.2 425.6 376.2 429.6 376.2 430.9 376.6 431.3 377 431.8 377.8 431.8 378.6 431.3 379.4 430.9 379.8 429.6 380.2 428.7 380.2M425.6 380.2 425.6 384.6M425.6 380.2 428.7 380.2M428.7 380.2 429.6 381.4M428.7 380.2 430.9 383.4M428.7 380.2 431.8 384.6M429.6 381.4 430.9 383.4M429.6 381.4 431.8 384.6M430.9 383.4 431.8 384.6M269.6 415.5 269.6 411.1 273.5 411.1 274.8 411.5 275.2 411.9 275.7 412.7 275.7 413.9 275.2 414.7 274.8 415.1 273.5 415.5 269.6 415.5M269.6 415.5 269.6 419.5M283.6 415.1 282.7 414.3 281.8 413.9 280.5 413.9 279.6 414.3 278.7 415.1 278.3 416.3 278.3 417.1 278.7 418.3 279.6 419.1 280.5 419.5 281.8 419.5 282.7 419.1 283.6 418.3M283.6 415.1 283.6 413.9M283.6 415.1 283.6 418.3M283.6 418.3 283.6 419.5M287.1 413.9 287.1 415.5M287.1 415.5 287.1 419.5M287.1 415.5 288.4 414.3 289.3 413.9 290.6 413.9 291.4 414.3 291.9 415.5 291.9 419.5M294.1 422.3 295 422.3 295.8 421.9 296.3 420.7 296.3 413.9M295.8 411.1 296.3 410.7 296.7 411.1 296.3 411.5 295.8 411.1M300.6 421.9 301.5 422.3 302.8 422.3 303.7 421.9 304.2 421.5 304.6 420.3 304.6 418.3M304.6 415.1 303.7 414.3 302.8 413.9 301.5 413.9 300.6 414.3 299.8 415.1 299.3 416.3 299.3 417.1 299.8 418.3 300.6 419.1 301.5 419.5 302.8 419.5 303.7 419.1 304.6 418.3M304.6 415.1 304.6 413.9M304.6 415.1 304.6 418.3M308.1 413.9 308.1 417.9 308.5 419.1 309.4 419.5 310.7 419.5 311.6 419.1 312.9 417.9M312.9 417.9 312.9 413.9M312.9 417.9 312.9 419.5M316.4 413.9 316.4 416.3M316.4 416.3 316.4 419.5M316.4 416.3 316.9 415.1 317.7 414.3 318.6 413.9 319.9 413.9M389.4 407.7 389.4 403.3 393.4 403.3 394.7 403.7 395.1 404.1 395.6 404.9 395.6 406.1 395.1 406.9 394.7 407.3 393.4 407.7 389.4 407.7M389.4 407.7 389.4 411.7M403.5 407.3 402.6 406.5 401.7 406.1 400.4 406.1 399.5 406.5 398.6 407.3 398.2 408.5 398.2 409.3 398.6 410.5 399.5 411.3 400.4 411.7 401.7 411.7 402.6 411.3 403.5 410.5M403.5 407.3 403.5 406.1M403.5 407.3 403.5 410.5M403.5 410.5 403.5 411.7M411.8 407.3 410.9 406.5 410 406.1 408.7 406.1 407.8 406.5 407 407.3 406.5 408.5 406.5 409.3 407 410.5 407.8 411.3 408.7 411.7 410 411.7 410.9 411.3 411.8 410.5M411.8 407.3 411.8 403.3M411.8 407.3 411.8 410.5M411.8 410.5 411.8 411.7M415.3 406.1 415.3 411.7M414.9 403.3 415.3 402.9 415.7 403.3 415.3 403.7 414.9 403.3M423.6 407.3 422.7 406.5 421.9 406.1 420.5 406.1 419.7 406.5 418.8 407.3 418.4 408.5 418.4 409.3 418.8 410.5 419.7 411.3 420.5 411.7 421.9 411.7 422.7 411.3 423.6 410.5M423.6 407.3 423.6 403.3M423.6 407.3 423.6 410.5M423.6 410.5 423.6 411.7M431.9 407.3 431.1 406.5 430.2 406.1 428.9 406.1 428 406.5 427.1 407.3 426.7 408.5 426.7 409.3 427.1 410.5 428 411.3 428.9 411.7 430.2 411.7 431.1 411.3 431.9 410.5M431.9 407.3 431.9 406.1M431.9 407.3 431.9 410.5M431.9 410.5 431.9 411.7M435.4 406.1 435.4 407.7M435.4 407.7 435.4 411.7M435.4 407.7 436.8 406.5 437.6 406.1 438.9 406.1 439.8 406.5 440.3 407.7 440.3 411.7M427.3 449.7 426.9 448.9 426 448.1 425.1 447.7 423.4 447.7 422.5 448.1 421.6 448.9 421.2 449.7 420.8 450.9 420.8 452.9 421.2 454.1 421.6 454.9 422.5 455.7 423.4 456.1 425.1 456.1 426 455.7 426.9 454.9 427.3 454.1M430.4 447.7 430.4 452.1M430.4 452.1 430.4 456.1M430.4 452.1 431.7 450.9 432.6 450.5 433.9 450.5 434.8 450.9 435.2 452.1 435.2 456.1M438.7 447.7 438.7 452.1M438.7 452.1 438.7 456.1M438.7 452.1 440 450.9 440.9 450.5 442.2 450.5 443.1 450.9 443.5 452.1 443.5 456.1M446.6 452.9 446.6 453.7 447 454.9 447.9 455.7 448.8 456.1 450.1 456.1 451 455.7 451.8 454.9 452.3 453.7 452.3 452.9 451.8 451.7 451 450.9 450.1 450.5 448.8 450.5 447.9 450.9 447 451.7 446.6 452.9M455.4 450.5 455.4 452.9M455.4 452.9 455.4 456.1M455.4 452.9 455.8 451.7 456.7 450.9 457.5 450.5 458.9 450.5M217.1 475.2 219.3 475.2 219.3 476.4 218.9 477.2 218 478 217.1 478.4 215.4 478.4 214.5 478 213.6 477.2 213.2 476.4 212.8 475.2 212.8 473.2 213.2 472 213.6 471.2 214.5 470.4 215.4 470 217.1 470 218 470.4 218.9 471.2 219.3 472M221.9 472.8 223.7 478.4 225.5 472.8 227.2 478.4 229 472.8M236.8 474 236 473.2 235.1 472.8 233.8 472.8 232.9 473.2 232 474 231.6 475.2 231.6 476 232 477.2 232.9 478 233.8 478.4 235.1 478.4 236 478 236.8 477.2M236.8 474 236.8 472.8M236.8 474 236.8 477.2M236.8 477.2 236.8 478.4M245.2 474 244.3 473.2 243.4 472.8 242.1 472.8 241.2 473.2 240.3 474 239.9 475.2 239.9 476 240.3 477.2 241.2 478 242.1 478.4 243.4 478.4 244.3 478 245.2 477.2M245.2 474 245.2 470M245.2 474 245.2 477.2M245.2 477.2 245.2 478.4M253.5 474 252.6 473.2 251.7 472.8 250.4 472.8 249.5 473.2 248.7 474 248.2 475.2 248.2 476 248.7 477.2 249.5 478 250.4 478.4 251.7 478.4 252.6 478 253.5 477.2M253.5 474 253.5 472.8M253.5 474 253.5 477.2M253.5 477.2 253.5 478.4M257 472.8 257 475.2M257 475.2 257 478.4M257 475.2 257.4 474 258.3 473.2 259.2 472.8 260.5 472.8M361.9 465.5 361.9 471.1M361.9 471.1 361.9 473.9M361.9 471.1 364 469.1M364 469.1 368 465.5M364 469.1 368 473.9M371 465.5 371 469.5M371 469.5 371 473.9M371 469.5 377.2 469.5M377.2 469.5 377.2 465.5M377.2 469.5 377.2 473.9M380.7 465.5 380.7 473.9" fill="none" stroke="#000" stroke-width="2.5" stroke-linejoin="round" stroke-linecap="round"/>
<rect x="161.4" y="54.5" width="531.7" height="510.4" fill="none" stroke="#000" stroke-width="1.8"/>
<path d="M161.4 565v3.6M214.6 565v3.6M267.7 565v3.6M320.9 565v3.6M374.1 565v3.6M427.2 565v3.6M480.4 565v3.6M533.6 565v3.6M586.8 565v3.6M639.9 565v3.6M693.1 565v3.6M161.4 565h-4M161.4 501.2h-4M161.4 437.4h-4M161.4 373.6h-4M161.4 309.8h-4M161.4 246h-4M161.4 182.2h-4M161.4 118.4h-4M161.4 54.5h-4" fill="none" stroke="#000" stroke-width="1.2"/>
<path d="M153.5 575.6 153.5 573.9 153.8 572.1 154.4 571 155.4 570.6 156 570.6 156.9 571 157.2 571.7M153.5 575.6 153.8 574.6 154.4 573.9 155.4 573.5 155.7 573.5 156.6 573.9 157.2 574.6 157.5 575.6 157.5 576 157.2 577.1 156.6 577.8 155.7 578.1 155.4 578.1 154.4 577.8 153.8 577.1 153.5 575.6M159.4 573.9 159.4 574.9 159.7 576.7 160.3 577.8 161.2 578.1 161.9 578.1 162.8 577.8 163.4 576.7 163.7 574.9 163.7 573.9 163.4 572.1 162.8 571 161.9 570.6 161.2 570.6 160.3 571 159.7 572.1 159.4 573.9M165.9 574.2 165.9 570.6 169.9 570.6M165.9 574.2 165.9 578.1 169.9 578.1M165.9 574.2 168.4 574.2M206.7 575.6 206.7 573.9 207 572.1 207.6 571 208.5 570.6 209.1 570.6 210.1 571 210.4 571.7M206.7 575.6 207 574.6 207.6 573.9 208.5 573.5 208.8 573.5 209.8 573.9 210.4 574.6 210.7 575.6 210.7 576 210.4 577.1 209.8 577.8 208.8 578.1 208.5 578.1 207.6 577.8 207 577.1 206.7 575.6M212.9 572.4 212.9 572.1 213.2 571.3 213.5 571 214.1 570.6 215.3 570.6 216 571 216.3 571.3 216.6 572.1 216.6 572.8 216.3 573.5 215.7 574.6 212.6 578.1 216.9 578.1M219.1 574.2 219.1 570.6 223.1 570.6M219.1 574.2 219.1 578.1 223.1 578.1M219.1 574.2 221.5 574.2M259.8 575.6 259.8 573.9 260.1 572.1 260.8 571 261.7 570.6 262.3 570.6 263.2 571 263.6 571.7M259.8 575.6 260.1 574.6 260.8 573.9 261.7 573.5 262 573.5 262.9 573.9 263.6 574.6 263.9 575.6 263.9 576 263.6 577.1 262.9 577.8 262 578.1 261.7 578.1 260.8 577.8 260.1 577.1 259.8 575.6M268.8 575.6 265.7 575.6 268.8 570.6 268.8 575.6M268.8 575.6 268.8 578.1M268.8 575.6 270.4 575.6M272.2 574.2 272.2 570.6 276.3 570.6M272.2 574.2 272.2 578.1 276.3 578.1M272.2 574.2 274.7 574.2M313 575.6 313 573.9 313.3 572.1 313.9 571 314.9 570.6 315.5 570.6 316.4 571 316.7 571.7M313 575.6 313.3 574.6 313.9 573.9 314.9 573.5 315.2 573.5 316.1 573.9 316.7 574.6 317 575.6 317 576 316.7 577.1 316.1 577.8 315.2 578.1 314.9 578.1 313.9 577.8 313.3 577.1 313 575.6M319.2 575.6 319.2 573.9 319.5 572.1 320.1 571 321.1 570.6 321.7 570.6 322.6 571 322.9 571.7M319.2 575.6 319.5 574.6 320.1 573.9 321.1 573.5 321.4 573.5 322.3 573.9 322.9 574.6 323.2 575.6 323.2 576 322.9 577.1 322.3 577.8 321.4 578.1 321.1 578.1 320.1 577.8 319.5 577.1 319.2 575.6M325.4 574.2 325.4 570.6 329.4 570.6M325.4 574.2 325.4 578.1 329.4 578.1M325.4 574.2 327.9 574.2M366.2 575.6 366.2 573.9 366.5 572.1 367.1 571 368 570.6 368.7 570.6 369.6 571 369.9 571.7M366.2 575.6 366.5 574.6 367.1 573.9 368 573.5 368.3 573.5 369.3 573.9 369.9 574.6 370.2 575.6 370.2 576 369.9 577.1 369.3 577.8 368.3 578.1 368 578.1 367.1 577.8 366.5 577.1 366.2 575.6M372.1 575.6 372.1 576.7 372.4 577.4 372.7 577.8 373.6 578.1 374.9 578.1 375.8 577.8 376.1 577.4 376.4 576.7 376.4 575.6 376.1 574.9 375.5 574.2 374.5 573.9 373.3 573.5 372.7 573.1 372.4 572.4 372.4 571.7 372.7 571 373.6 570.6 374.9 570.6 375.8 571 376.1 571.7 376.1 572.4 375.8 573.1 375.2 573.5 373.9 573.9 373 574.2 372.4 574.9 372.1 575.6M378.6 574.2 378.6 570.6 382.6 570.6M378.6 574.2 378.6 578.1 382.6 578.1M378.6 574.2 381.1 574.2M419 570.6 423.4 570.6M420.3 578.1 420.6 577.4M420.3 578.1 422.8 572.1M420.3 578.1 423.1 571.3M420.3 578.1 423.4 570.6M420.6 577.4 422.8 572.1M420.6 577.4 423.1 571.3M420.6 577.4 423.4 570.6M422.8 572.1 420.9 576.7M423.1 571.3 420.9 576.7M423.1 571.3 423.4 570.6M423.4 570.6 420.9 576.7M425.2 573.9 425.2 574.9 425.5 576.7 426.2 577.8 427.1 578.1 427.7 578.1 428.6 577.8 429.3 576.7 429.6 574.9 429.6 573.9 429.3 572.1 428.6 571 427.7 570.6 427.1 570.6 426.2 571 425.5 572.1 425.2 573.9M431.7 574.2 431.7 570.6 435.8 570.6M431.7 574.2 431.7 578.1 435.8 578.1M431.7 574.2 434.2 574.2M472.2 570.6 476.5 570.6M473.4 578.1 473.8 577.4M473.4 578.1 475.9 572.1M473.4 578.1 476.2 571.3M473.4 578.1 476.5 570.6M473.8 577.4 475.9 572.1M473.8 577.4 476.2 571.3M473.8 577.4 476.5 570.6M475.9 572.1 474.1 576.7M476.2 571.3 474.1 576.7M476.2 571.3 476.5 570.6M476.5 570.6 474.1 576.7M478.7 572.4 478.7 572.1 479 571.3 479.3 571 480 570.6 481.2 570.6 481.8 571 482.1 571.3 482.4 572.1 482.4 572.8 482.1 573.5 481.5 574.6 478.4 578.1 482.7 578.1M484.9 574.2 484.9 570.6 488.9 570.6M484.9 574.2 484.9 578.1 488.9 578.1M484.9 574.2 487.4 574.2M525.4 570.6 529.7 570.6M526.6 578.1 526.9 577.4M526.6 578.1 529.1 572.1M526.6 578.1 529.4 571.3M526.6 578.1 529.7 570.6M526.9 577.4 529.1 572.1M526.9 577.4 529.4 571.3M526.9 577.4 529.7 570.6M529.1 572.1 527.2 576.7M529.4 571.3 527.2 576.7M529.4 571.3 529.7 570.6M529.7 570.6 527.2 576.7M534.7 575.6 531.6 575.6 534.7 570.6 534.7 575.6M534.7 575.6 534.7 578.1M534.7 575.6 536.2 575.6M538.1 574.2 538.1 570.6 542.1 570.6M538.1 574.2 538.1 578.1 542.1 578.1M538.1 574.2 540.6 574.2M578.5 570.6 582.9 570.6M579.8 578.1 580.1 577.4M579.8 578.1 582.3 572.1M579.8 578.1 582.6 571.3M579.8 578.1 582.9 570.6M580.1 577.4 582.3 572.1M580.1 577.4 582.6 571.3M580.1 577.4 582.9 570.6M582.3 572.1 580.4 576.7M582.6 571.3 580.4 576.7M582.6 571.3 582.9 570.6M582.9 570.6 580.4 576.7M585.1 575.6 585.1 573.9 585.4 572.1 586 571 586.9 570.6 587.5 570.6 588.5 571 588.8 571.7M585.1 575.6 585.4 574.6 586 573.9 586.9 573.5 587.2 573.5 588.2 573.9 588.8 574.6 589.1 575.6 589.1 576 588.8 577.1 588.2 577.8 587.2 578.1 586.9 578.1 586 577.8 585.4 577.1 585.1 575.6M591.3 574.2 591.3 570.6 595.3 570.6M591.3 574.2 591.3 578.1 595.3 578.1M591.3 574.2 593.7 574.2M631.7 570.6 636.1 570.6M633 578.1 633.3 577.4M633 578.1 635.4 572.1M633 578.1 635.7 571.3M633 578.1 636.1 570.6M633.3 577.4 635.4 572.1M633.3 577.4 635.7 571.3M633.3 577.4 636.1 570.6M635.4 572.1 633.6 576.7M635.7 571.3 633.6 576.7M635.7 571.3 636.1 570.6M636.1 570.6 633.6 576.7M637.9 575.6 637.9 576.7 638.2 577.4 638.5 577.8 639.5 578.1 640.7 578.1 641.6 577.8 641.9 577.4 642.3 576.7 642.3 575.6 641.9 574.9 641.3 574.2 640.4 573.9 639.2 573.5 638.5 573.1 638.2 572.4 638.2 571.7 638.5 571 639.5 570.6 640.7 570.6 641.6 571 641.9 571.7 641.9 572.4 641.6 573.1 641 573.5 639.8 573.9 638.8 574.2 638.2 574.9 637.9 575.6M644.4 574.2 644.4 570.6 648.5 570.6M644.4 574.2 644.4 578.1 648.5 578.1M644.4 574.2 646.9 574.2M684.9 575.6 684.9 576.7 685.2 577.4 685.5 577.8 686.4 578.1 687.7 578.1 688.6 577.8 688.9 577.4 689.2 576.7 689.2 575.6 688.9 574.9 688.3 574.2 687.4 573.9 686.1 573.5 685.5 573.1 685.2 572.4 685.2 571.7 685.5 571 686.4 570.6 687.7 570.6 688.6 571 688.9 571.7 688.9 572.4 688.6 573.1 688 573.5 686.7 573.9 685.8 574.2 685.2 574.9 684.9 575.6M691.1 573.9 691.1 574.9 691.4 576.7 692 577.8 692.9 578.1 693.6 578.1 694.5 577.8 695.1 576.7 695.4 574.9 695.4 573.9 695.1 572.1 694.5 571 693.6 570.6 692.9 570.6 692 571 691.4 572.1 691.1 573.9M697.6 574.2 697.6 570.6 701.6 570.6M697.6 574.2 697.6 578.1 701.6 578.1M697.6 574.2 700.1 574.2M136.5 563.1 136.5 562.7 136.8 562 137.1 561.6 137.8 561.3 139 561.3 139.6 561.6 139.9 562 140.2 562.7 140.2 563.4 139.9 564.1 139.3 565.2 136.2 568.8 140.6 568.8M142.7 563.1 142.7 562.7 143 562 143.3 561.6 144 561.3 145.2 561.3 145.8 561.6 146.1 562 146.4 562.7 146.4 563.4 146.1 564.1 145.5 565.2 142.4 568.8 146.8 568.8M148.9 568.8 148.9 561.3 153.3 568.8 153.3 561.3M136.5 499.3 136.5 498.9 136.8 498.2 137.1 497.8 137.8 497.5 139 497.5 139.6 497.8 139.9 498.2 140.2 498.9 140.2 499.6 139.9 500.3 139.3 501.4 136.2 505 140.6 505M145.5 502.5 142.4 502.5 145.5 497.5 145.5 502.5M145.5 502.5 145.5 505M145.5 502.5 147.1 502.5M148.9 505 148.9 497.5 153.3 505 153.3 497.5M136.5 435.5 136.5 435.1 136.8 434.4 137.1 434 137.8 433.7 139 433.7 139.6 434 139.9 434.4 140.2 435.1 140.2 435.8 139.9 436.5 139.3 437.6 136.2 441.2 140.6 441.2M142.7 438.7 142.7 436.9 143 435.1 143.6 434 144.6 433.7 145.2 433.7 146.1 434 146.4 434.7M142.7 438.7 143 437.6 143.6 436.9 144.6 436.5 144.9 436.5 145.8 436.9 146.4 437.6 146.8 438.7 146.8 439 146.4 440.1 145.8 440.8 144.9 441.2 144.6 441.2 143.6 440.8 143 440.1 142.7 438.7M148.9 441.2 148.9 433.7 153.3 441.2 153.3 433.7M136.5 371.7 136.5 371.3 136.8 370.6 137.1 370.2 137.8 369.9 139 369.9 139.6 370.2 139.9 370.6 140.2 371.3 140.2 372 139.9 372.7 139.3 373.8 136.2 377.4 140.6 377.4M142.4 374.9 142.4 375.9 142.7 376.7 143 377 144 377.4 145.2 377.4 146.1 377 146.4 376.7 146.8 375.9 146.8 374.9 146.4 374.2 145.8 373.4 144.9 373.1 143.6 372.7 143 372.4 142.7 371.7 142.7 370.9 143 370.2 144 369.9 145.2 369.9 146.1 370.2 146.4 370.9 146.4 371.7 146.1 372.4 145.5 372.7 144.3 373.1 143.3 373.4 142.7 374.2 142.4 374.9M148.9 377.4 148.9 369.9 153.3 377.4 153.3 369.9M136.2 312.1 136.5 312.9 136.8 313.2 137.8 313.6 138.7 313.6 139.6 313.2 140.2 312.5 140.6 311.4 140.6 310.7 140.2 309.6 139.9 309.3 139.3 308.9 138.4 308.9 140.2 306.1 136.8 306.1M142.4 309.3 142.4 310.4 142.7 312.1 143.3 313.2 144.3 313.6 144.9 313.6 145.8 313.2 146.4 312.1 146.8 310.4 146.8 309.3 146.4 307.5 145.8 306.4 144.9 306.1 144.3 306.1 143.3 306.4 142.7 307.5 142.4 309.3M148.9 313.6 148.9 306.1 153.3 313.6 153.3 306.1M136.2 248.3 136.5 249.1 136.8 249.4 137.8 249.8 138.7 249.8 139.6 249.4 140.2 248.7 140.6 247.6 140.6 246.9 140.2 245.8 139.9 245.5 139.3 245.1 138.4 245.1 140.2 242.3 136.8 242.3M142.7 244 142.7 243.7 143 243 143.3 242.6 144 242.3 145.2 242.3 145.8 242.6 146.1 243 146.4 243.7 146.4 244.4 146.1 245.1 145.5 246.2 142.4 249.8 146.8 249.8M148.9 249.8 148.9 242.3 153.3 249.8 153.3 242.3M136.2 184.5 136.5 185.2 136.8 185.6 137.8 186 138.7 186 139.6 185.6 140.2 184.9 140.6 183.8 140.6 183.1 140.2 182 139.9 181.7 139.3 181.3 138.4 181.3 140.2 178.4 136.8 178.4M145.5 183.5 142.4 183.5 145.5 178.4 145.5 183.5M145.5 183.5 145.5 186M145.5 183.5 147.1 183.5M148.9 186 148.9 178.4 153.3 186 153.3 178.4M136.2 120.7 136.5 121.4 136.8 121.8 137.8 122.2 138.7 122.2 139.6 121.8 140.2 121.1 140.6 120 140.6 119.3 140.2 118.2 139.9 117.9 139.3 117.5 138.4 117.5 140.2 114.6 136.8 114.6M142.7 119.7 142.7 117.9 143 116.1 143.6 115 144.6 114.6 145.2 114.6 146.1 115 146.4 115.7M142.7 119.7 143 118.6 143.6 117.9 144.6 117.5 144.9 117.5 145.8 117.9 146.4 118.6 146.8 119.7 146.8 120 146.4 121.1 145.8 121.8 144.9 122.2 144.6 122.2 143.6 121.8 143 121.1 142.7 119.7M148.9 122.2 148.9 114.6 153.3 122.2 153.3 114.6M136.2 56.9 136.5 57.6 136.8 58 137.8 58.3 138.7 58.3 139.6 58 140.2 57.3 140.6 56.2 140.6 55.5 140.2 54.4 139.9 54.1 139.3 53.7 138.4 53.7 140.2 50.8 136.8 50.8M142.4 55.8 142.4 56.9 142.7 57.6 143 58 144 58.3 145.2 58.3 146.1 58 146.4 57.6 146.8 56.9 146.8 55.8 146.4 55.1 145.8 54.4 144.9 54.1 143.6 53.7 143 53.3 142.7 52.6 142.7 51.9 143 51.2 144 50.8 145.2 50.8 146.1 51.2 146.4 51.9 146.4 52.6 146.1 53.3 145.5 53.7 144.3 54.1 143.3 54.4 142.7 55.1 142.4 55.8M148.9 58.3 148.9 50.8 153.3 58.3 153.3 50.8" fill="none" stroke="#000" stroke-width="1.35" stroke-linejoin="round" stroke-linecap="round"/>
<path d="M205.8 33.5 205.8 24.7 212.4 24.7 214.6 25.5 215.4 26.3 216.1 27.9 216.1 30.3 215.4 31.9 214.6 32.7 212.4 33.5 205.8 33.5M205.8 33.5 205.8 41.5M221.2 30.3 221.2 35.1M221.2 35.1 221.2 41.5M221.2 35.1 222 32.7 223.4 31.1 224.9 30.3 227.1 30.3M230.1 35.1 230.1 36.7 230.8 39.1 232.3 40.7 233.7 41.5 235.9 41.5 237.4 40.7 238.9 39.1M230.1 35.1 230.8 32.7 232.3 31.1 233.7 30.3 235.9 30.3 237.4 31.1 238.2 31.9 238.9 33.5 238.9 35.1 230.1 35.1M252.1 32.7 250.7 31.1 249.2 30.3 247 30.3 245.5 31.1 244 32.7 243.3 35.1 243.3 36.7 244 39.1 245.5 40.7 247 41.5 249.2 41.5 250.7 40.7 252.1 39.1M257.3 30.3 257.3 41.5M256.5 24.7 257.3 23.9 258 24.7 257.3 25.5 256.5 24.7M263.2 30.3 263.2 32.7M263.2 32.7 263.2 39.1M263.2 32.7 264.6 31.1 266.1 30.3 268.3 30.3 269.8 31.1 271.3 32.7 272 35.1 272 36.7 271.3 39.1 269.8 40.7 268.3 41.5 266.1 41.5 264.6 40.7 263.2 39.1M263.2 39.1 263.2 47.1M277.1 30.3 277.1 41.5M276.4 24.7 277.1 23.9 277.9 24.7 277.1 25.5 276.4 24.7M281.5 30.3 283.8 30.3M283.8 30.3 283.8 24.7M283.8 30.3 283.8 38.3 284.5 40.7 286 41.5 287.4 41.5M283.8 30.3 286.7 30.3M299.9 32.7 298.5 31.1 297 30.3 294.8 30.3 293.3 31.1 291.8 32.7 291.1 35.1 291.1 36.7 291.8 39.1 293.3 40.7 294.8 41.5 297 41.5 298.5 40.7 299.9 39.1M299.9 32.7 299.9 30.3M299.9 32.7 299.9 39.1M299.9 39.1 299.9 41.5M304.3 30.3 306.6 30.3M306.6 30.3 306.6 24.7M306.6 30.3 306.6 38.3 307.3 40.7 308.8 41.5 310.2 41.5M306.6 30.3 309.5 30.3M314.6 30.3 314.6 41.5M313.9 24.7 314.6 23.9 315.4 24.7 314.6 25.5 313.9 24.7M319.8 35.1 319.8 36.7 320.5 39.1 322 40.7 323.5 41.5 325.7 41.5 327.1 40.7 328.6 39.1 329.4 36.7 329.4 35.1 328.6 32.7 327.1 31.1 325.7 30.3 323.5 30.3 322 31.1 320.5 32.7 319.8 35.1M334.5 30.3 334.5 33.5M334.5 33.5 334.5 41.5M334.5 33.5 336.7 31.1 338.2 30.3 340.4 30.3 341.9 31.1 342.6 33.5 342.6 41.5M365.4 21.5 363.9 23.1 362.5 25.5 361 28.7 360.2 32.7 360.2 35.9 361 39.9 362.5 43.1 363.9 45.5 365.4 47.1M370.5 30.3 370.5 33.5M370.5 33.5 370.5 41.5M370.5 33.5 372.8 31.1 374.2 30.3 376.4 30.3 377.9 31.1 378.6 33.5M378.6 33.5 378.6 41.5M378.6 33.5 380.8 31.1 382.3 30.3 384.5 30.3 386 31.1 386.7 33.5 386.7 41.5M392.6 30.3 392.6 33.5M392.6 33.5 392.6 41.5M392.6 33.5 394.8 31.1 396.3 30.3 398.5 30.3 400 31.1 400.7 33.5M400.7 33.5 400.7 41.5M400.7 33.5 402.9 31.1 404.4 30.3 406.6 30.3 408.1 31.1 408.8 33.5 408.8 41.5M413.9 21.5 415.4 23.1 416.9 25.5 418.4 28.7 419.1 32.7 419.1 35.9 418.4 39.9 416.9 43.1 415.4 45.5 413.9 47.1M436 31.9 436 34.3 436.7 38.3 438.2 40.7 440.4 41.5 441.9 41.5 444.1 40.7 445.6 38.3 446.3 34.3 446.3 31.9 445.6 27.9 444.1 25.5 441.9 24.7 440.4 24.7 438.2 25.5 436.7 27.9 436 31.9M450.7 38.3 451.4 39.9 452.2 40.7 454.4 41.5 456.6 41.5 458.8 40.7 460.3 39.1 461 36.7 461 35.1 460.3 32.7 459.5 31.9 458.1 31.1 455.9 31.1 460.3 24.7 452.2 24.7M464.7 47.1 467.6 41.5M464.7 47.1 468.4 39.9M464.7 47.1 471.3 34.3M464.7 47.1 474.2 28.7M464.7 47.1 475 27.1M467.6 41.5 468.4 39.9M467.6 41.5 471.3 34.3M467.6 41.5 474.2 28.7M467.6 41.5 477.9 21.5M468.4 39.9 471.3 34.3M468.4 39.9 475 27.1M468.4 39.9 477.9 21.5M471.3 34.3 474.2 28.7M471.3 34.3 475 27.1M471.3 34.3 477.9 21.5M474.2 28.7 475 27.1M474.2 28.7 477.9 21.5M475 27.1 477.9 21.5M480.9 35.9 480.9 37.5 481.6 39.9 482.3 40.7 483.8 41.5 485.3 41.5 486.8 40.7 487.5 39.9 488.2 37.5 488.2 24.7M491.9 41.5 494.1 35.1M491.9 41.5 495.6 31.1M491.9 41.5 497.8 24.7M494.1 35.1 493.4 37.5 496.3 28.7 495.6 31.1M494.1 35.1 495.6 31.1M494.1 35.1 497.8 24.7M495.6 31.1 497.8 24.7M497.8 24.7 500 31.1M497.8 24.7 501.5 35.1M497.8 24.7 503.7 41.5M494.1 35.9 501.5 35.9M500 31.1 499.3 28.7 502.2 37.5 501.5 35.1M500 31.1 501.5 35.1M500 31.1 503.7 41.5M501.5 35.1 503.7 41.5M507.3 41.5 507.3 24.7 517.6 41.5 517.6 24.7M522.1 47.1 525 41.5M522.1 47.1 525.7 39.9M522.1 47.1 528.7 34.3M522.1 47.1 531.6 28.7M522.1 47.1 532.4 27.1M525 41.5 525.7 39.9M525 41.5 528.7 34.3M525 41.5 531.6 28.7M525 41.5 535.3 21.5M525.7 39.9 528.7 34.3M525.7 39.9 532.4 27.1M525.7 39.9 535.3 21.5M528.7 34.3 531.6 28.7M528.7 34.3 532.4 27.1M528.7 34.3 535.3 21.5M531.6 28.7 532.4 27.1M531.6 28.7 535.3 21.5M532.4 27.1 535.3 21.5M539.7 28.7 539.7 27.9 540.4 26.3 541.2 25.5 542.7 24.7 545.6 24.7 547.1 25.5 547.8 26.3 548.5 27.9 548.5 29.5 547.8 31.1 546.3 33.5 539 41.5 549.3 41.5M553.7 31.9 553.7 34.3 554.4 38.3 555.9 40.7 558.1 41.5 559.6 41.5 561.8 40.7 563.2 38.3 564 34.3 564 31.9 563.2 27.9 561.8 25.5 559.6 24.7 558.1 24.7 555.9 25.5 554.4 27.9 553.7 31.9M569.1 28.7 569.1 27.9 569.9 26.3 570.6 25.5 572.1 24.7 575 24.7 576.5 25.5 577.2 26.3 578 27.9 578 29.5 577.2 31.1 575.7 33.5 568.4 41.5 578.7 41.5M583.8 35.9 583.8 31.9 584.6 27.9 586 25.5 588.3 24.7 589.7 24.7 591.9 25.5 592.7 27.1M583.8 35.9 584.6 33.5 586 31.9 588.3 31.1 589 31.1 591.2 31.9 592.7 33.5 593.4 35.9 593.4 36.7 592.7 39.1 591.2 40.7 589 41.5 588.3 41.5 586 40.7 584.6 39.1 583.8 35.9M611.8 27.9 613.3 27.1 615.5 24.7 615.5 41.5M625 28.7 625 27.9 625.8 26.3 626.5 25.5 628 24.7 630.9 24.7 632.4 25.5 633.1 26.3 633.9 27.9 633.9 29.5 633.1 31.1 631.6 33.5 624.3 41.5 634.6 41.5M639 24.7 649.3 24.7 639 41.5 649.3 41.5" fill="none" stroke="#000" stroke-width="1.35" stroke-linejoin="round" stroke-linecap="round"/>
<g stroke="#000" stroke-width="1.3" stroke-linejoin="miter">
<path d="M739.3 145.3L746.6 108.6L754 145.3Z" fill="#a0287c"/>
<rect x="739.3" y="145.3" width="14.7" height="36.4" fill="#fa3c3c"/>
<rect x="739.3" y="181.7" width="14.7" height="36.4" fill="#e6dc32"/>
<rect x="739.3" y="218" width="14.7" height="36.4" fill="#00dc00"/>
<rect x="739.3" y="254.4" width="14.7" height="36.4" fill="#2860dc"/>
<rect x="739.3" y="290.8" width="14.7" height="36.4" fill="#2d87d7"/>
<rect x="739.3" y="327.1" width="14.7" height="36.4" fill="#5fb0f0"/>
<rect x="739.3" y="363.5" width="14.7" height="36.4" fill="#66e4f4"/>
<rect x="739.3" y="399.9" width="14.7" height="36.4" fill="#bdfdfd"/>
<rect x="739.3" y="436.3" width="14.7" height="36.4" fill="#aaaaaa"/>
<path d="M739.3 472.6L746.6 509L754 472.6Z" fill="#fff"/>
</g>
<path d="M760.3 142.5 761.2 142.1 762.4 140.8 762.4 149.8M767.5 144.7 767.5 145.9 767.9 148.1 768.8 149.4 770 149.8 770.9 149.8 772.1 149.4 773 148.1 773.4 145.9 773.4 144.7 773 142.5 772.1 141.2 770.9 140.8 770 140.8 768.8 141.2 767.9 142.5 767.5 144.7M775.9 144.7 775.9 145.9 776.4 148.1 777.2 149.4 778.5 149.8 779.3 149.8 780.6 149.4 781.4 148.1 781.9 145.9 781.9 144.7 781.4 142.5 780.6 141.2 779.3 140.8 778.5 140.8 777.2 141.2 776.4 142.5 775.9 144.7M759.1 184.4 759.5 185.3 759.9 185.7 761.2 186.2 762.4 186.2 763.7 185.7 764.6 184.9 765 183.6 765 182.7 764.6 181.5 763.7 180.6 762.4 180.2 761.2 180.2 759.9 180.6 759.5 181 759.9 177.2 764.1 177.2M767.5 181 767.5 182.3 767.9 184.4 768.8 185.7 770 186.2 770.9 186.2 772.1 185.7 773 184.4 773.4 182.3 773.4 181 773 178.9 772.1 177.6 770.9 177.2 770 177.2 768.8 177.6 767.9 178.9 767.5 181M763.3 219.5 759.1 219.5 763.3 213.6 763.3 219.5M763.3 219.5 763.3 222.5M763.3 219.5 765.4 219.5M767.5 217.4 767.5 218.7 767.9 220.8 768.8 222.1 770 222.5 770.9 222.5 772.1 222.1 773 220.8 773.4 218.7 773.4 217.4 773 215.3 772.1 214 770.9 213.6 770 213.6 768.8 214 767.9 215.3 767.5 217.4M759.1 257.2 759.5 258 759.9 258.5 761.2 258.9 762.4 258.9 763.7 258.5 764.6 257.6 765 256.3 765 255.5 764.6 254.2 764.1 253.8 763.3 253.3 762 253.3 764.6 249.9 759.9 249.9M767.5 253.8 767.5 255.1 767.9 257.2 768.8 258.5 770 258.9 770.9 258.9 772.1 258.5 773 257.2 773.4 255.1 773.4 253.8 773 251.6 772.1 250.4 770.9 249.9 770 249.9 768.8 250.4 767.9 251.6 767.5 253.8M759.5 288.4 759.5 288 759.9 287.2 760.3 286.7 761.2 286.3 762.9 286.3 763.7 286.7 764.1 287.2 764.6 288 764.6 288.9 764.1 289.7 763.3 291 759.1 295.3 765 295.3M767.5 290.1 767.5 291.4 767.9 293.6 768.8 294.8 770 295.3 770.9 295.3 772.1 294.8 773 293.6 773.4 291.4 773.4 290.1 773 288 772.1 286.7 770.9 286.3 770 286.3 768.8 286.7 767.9 288 767.5 290.1M760.3 324.4 761.2 323.9 762.4 322.7 762.4 331.6M767.5 326.5 767.5 327.8 767.9 329.9 768.8 331.2 770 331.6 770.9 331.6 772.1 331.2 773 329.9 773.4 327.8 773.4 326.5 773 324.4 772.1 323.1 770.9 322.7 770 322.7 768.8 323.1 767.9 324.4 767.5 326.5M759.1 366.3 759.5 367.1 759.9 367.6 761.2 368 762.4 368 763.7 367.6 764.6 366.7 765 365.4 765 364.6 764.6 363.3 763.7 362.5 762.4 362 761.2 362 759.9 362.5 759.5 362.9 759.9 359 764.1 359M759.5 397.5 759.5 397.1 759.9 396.3 760.3 395.8 761.2 395.4 762.9 395.4 763.7 395.8 764.1 396.3 764.6 397.1 764.6 398 764.1 398.8 763.3 400.1 759.1 404.4 765 404.4M760.3 433.5 761.2 433.1 762.4 431.8 762.4 440.7M759.1 472 759.1 473.3 759.5 475.4 760.3 476.7 761.6 477.1 762.4 477.1 763.7 476.7 764.6 475.4 765 473.3 765 472 764.6 469.9 763.7 468.6 762.4 468.1 761.6 468.1 760.3 468.6 759.5 469.9 759.1 472M767.9 476.7 768.4 476.3 768.8 476.7 768.4 477.1 767.9 476.7M773 469.9 773.8 469.4 775.1 468.1 775.1 477.1" fill="none" stroke="#000" stroke-width="1.5" stroke-linejoin="round" stroke-linecap="round"/>
<g class="t">
<text x="473.2" y="113.7" font-size="10.5" textLength="43.8" lengthAdjust="spacingAndGlyphs">Chitral</text>
<text x="502" y="139.1" font-size="10.5" textLength="42.5" lengthAdjust="spacingAndGlyphs">Kalam</text>
<text x="552.8" y="122.1" font-size="10.5" textLength="33.3" lengthAdjust="spacingAndGlyphs">Gilgit</text>
<text x="585.4" y="142.9" font-size="10.5" textLength="46.9" lengthAdjust="spacingAndGlyphs">Skardu</text>
<text x="531.1" y="172.3" font-size="10.5" textLength="28.5" lengthAdjust="spacingAndGlyphs">MZD</text>
<text x="473.8" y="183.5" font-size="10.5" textLength="27.6" lengthAdjust="spacingAndGlyphs">PSH</text>
<text x="518" y="193.9" font-size="10.5" textLength="21.5" lengthAdjust="spacingAndGlyphs">ISB</text>
<text x="535" y="217.7" font-size="10.5" textLength="27.2" lengthAdjust="spacingAndGlyphs">JHM</text>
<text x="421.7" y="240.9" font-size="10.5" textLength="42.5" lengthAdjust="spacingAndGlyphs">Bannu</text>
<text x="460.3" y="255.4" font-size="10.5" textLength="21.9" lengthAdjust="spacingAndGlyphs">DIK</text>
<text x="508.7" y="255.4" font-size="10.5" textLength="25.8" lengthAdjust="spacingAndGlyphs">FSD</text>
<text x="550.9" y="262.9" font-size="10.5" textLength="26.3" lengthAdjust="spacingAndGlyphs">LHR</text>
<text x="407.5" y="285.5" font-size="10.5" textLength="33.7" lengthAdjust="spacingAndGlyphs">Zhob</text>
<text x="353" y="303" font-size="10.5" textLength="24.5" lengthAdjust="spacingAndGlyphs">QTA</text>
<text x="472.9" y="304.8" font-size="10.5" textLength="27.2" lengthAdjust="spacingAndGlyphs">MTN</text>
<text x="379.9" y="325.7" font-size="10.5" textLength="32.4" lengthAdjust="spacingAndGlyphs">Sibbi</text>
<text x="483.6" y="329.9" font-size="10.5" textLength="28.9" lengthAdjust="spacingAndGlyphs">BWP</text>
<text x="283.6" y="350.5" font-size="10.5" textLength="66.1" lengthAdjust="spacingAndGlyphs">Dalbandin</text>
<text x="200" y="363.6" font-size="10.5" textLength="61.3" lengthAdjust="spacingAndGlyphs">Nokkundi</text>
<text x="444" y="360.8" font-size="10.5" textLength="26.3" lengthAdjust="spacingAndGlyphs">RYK</text>
<text x="305.4" y="393.9" font-size="10.5" textLength="55.6" lengthAdjust="spacingAndGlyphs">Khuzdar</text>
<text x="405.9" y="384.6" font-size="10.5" textLength="27.2" lengthAdjust="spacingAndGlyphs">SKR</text>
<text x="267.8" y="419.5" font-size="10.5" textLength="52.6" lengthAdjust="spacingAndGlyphs">Panjgur</text>
<text x="387.7" y="411.7" font-size="10.5" textLength="54.3" lengthAdjust="spacingAndGlyphs">Padidan</text>
<text x="419.4" y="456.1" font-size="10.5" textLength="39.9" lengthAdjust="spacingAndGlyphs">Chhor</text>
<text x="211.4" y="478.4" font-size="10.5" textLength="49.5" lengthAdjust="spacingAndGlyphs">Gwadar</text>
<text x="360.1" y="473.9" font-size="10.5" textLength="22.3" lengthAdjust="spacingAndGlyphs">KHI</text>
<text x="152.3" y="578.1" font-size="10" textLength="18.3" lengthAdjust="spacingAndGlyphs">60E</text>
<text x="205.4" y="578.1" font-size="10" textLength="18.3" lengthAdjust="spacingAndGlyphs">62E</text>
<text x="258.6" y="578.1" font-size="10" textLength="18.3" lengthAdjust="spacingAndGlyphs">64E</text>
<text x="311.8" y="578.1" font-size="10" textLength="18.3" lengthAdjust="spacingAndGlyphs">66E</text>
<text x="364.9" y="578.1" font-size="10" textLength="18.3" lengthAdjust="spacingAndGlyphs">68E</text>
<text x="418.1" y="578.1" font-size="10" textLength="18.3" lengthAdjust="spacingAndGlyphs">70E</text>
<text x="471.3" y="578.1" font-size="10" textLength="18.3" lengthAdjust="spacingAndGlyphs">72E</text>
<text x="524.4" y="578.1" font-size="10" textLength="18.3" lengthAdjust="spacingAndGlyphs">74E</text>
<text x="577.6" y="578.1" font-size="10" textLength="18.3" lengthAdjust="spacingAndGlyphs">76E</text>
<text x="630.8" y="578.1" font-size="10" textLength="18.3" lengthAdjust="spacingAndGlyphs">78E</text>
<text x="684" y="578.1" font-size="10" textLength="18.3" lengthAdjust="spacingAndGlyphs">80E</text>
<text x="135.3" y="568.8" font-size="10" textLength="19.2" lengthAdjust="spacingAndGlyphs">22N</text>
<text x="135.3" y="505" font-size="10" textLength="19.2" lengthAdjust="spacingAndGlyphs">24N</text>
<text x="135.3" y="441.2" font-size="10" textLength="19.2" lengthAdjust="spacingAndGlyphs">26N</text>
<text x="135.3" y="377.4" font-size="10" textLength="19.2" lengthAdjust="spacingAndGlyphs">28N</text>
<text x="135.3" y="313.6" font-size="10" textLength="19.2" lengthAdjust="spacingAndGlyphs">30N</text>
<text x="135.3" y="249.8" font-size="10" textLength="19.2" lengthAdjust="spacingAndGlyphs">32N</text>
<text x="135.3" y="186" font-size="10" textLength="19.2" lengthAdjust="spacingAndGlyphs">34N</text>
<text x="135.3" y="122.2" font-size="10" textLength="19.2" lengthAdjust="spacingAndGlyphs">36N</text>
<text x="135.3" y="58.3" font-size="10" textLength="19.2" lengthAdjust="spacingAndGlyphs">38N</text>
<text x="202.8" y="41.5" font-size="24" textLength="448.7" lengthAdjust="spacingAndGlyphs">Precipitation (mm) 03/JAN/2026 12Z</text>
<text x="757.8" y="149.8" font-size="13" textLength="25.3" lengthAdjust="spacingAndGlyphs">100</text>
<text x="757.8" y="186.2" font-size="13" textLength="16.9" lengthAdjust="spacingAndGlyphs">50</text>
<text x="757.8" y="222.5" font-size="13" textLength="16.9" lengthAdjust="spacingAndGlyphs">40</text>
<text x="757.8" y="258.9" font-size="13" textLength="16.9" lengthAdjust="spacingAndGlyphs">30</text>
<text x="757.8" y="295.3" font-size="13" textLength="16.9" lengthAdjust="spacingAndGlyphs">20</text>
<text x="757.8" y="331.6" font-size="13" textLength="16.9" lengthAdjust="spacingAndGlyphs">10</text>
<text x="757.8" y="368" font-size="13" textLength="8.4" lengthAdjust="spacingAndGlyphs">5</text>
<text x="757.8" y="404.4" font-size="13" textLength="8.4" lengthAdjust="spacingAndGlyphs">2</text>
<text x="757.8" y="440.7" font-size="13" textLength="8.4" lengthAdjust="spacingAndGlyphs">1</text>
<text x="757.8" y="477.1" font-size="13" textLength="21.1" lengthAdjust="spacingAndGlyphs">0.1</text>
</g>
</svg></body></html>
